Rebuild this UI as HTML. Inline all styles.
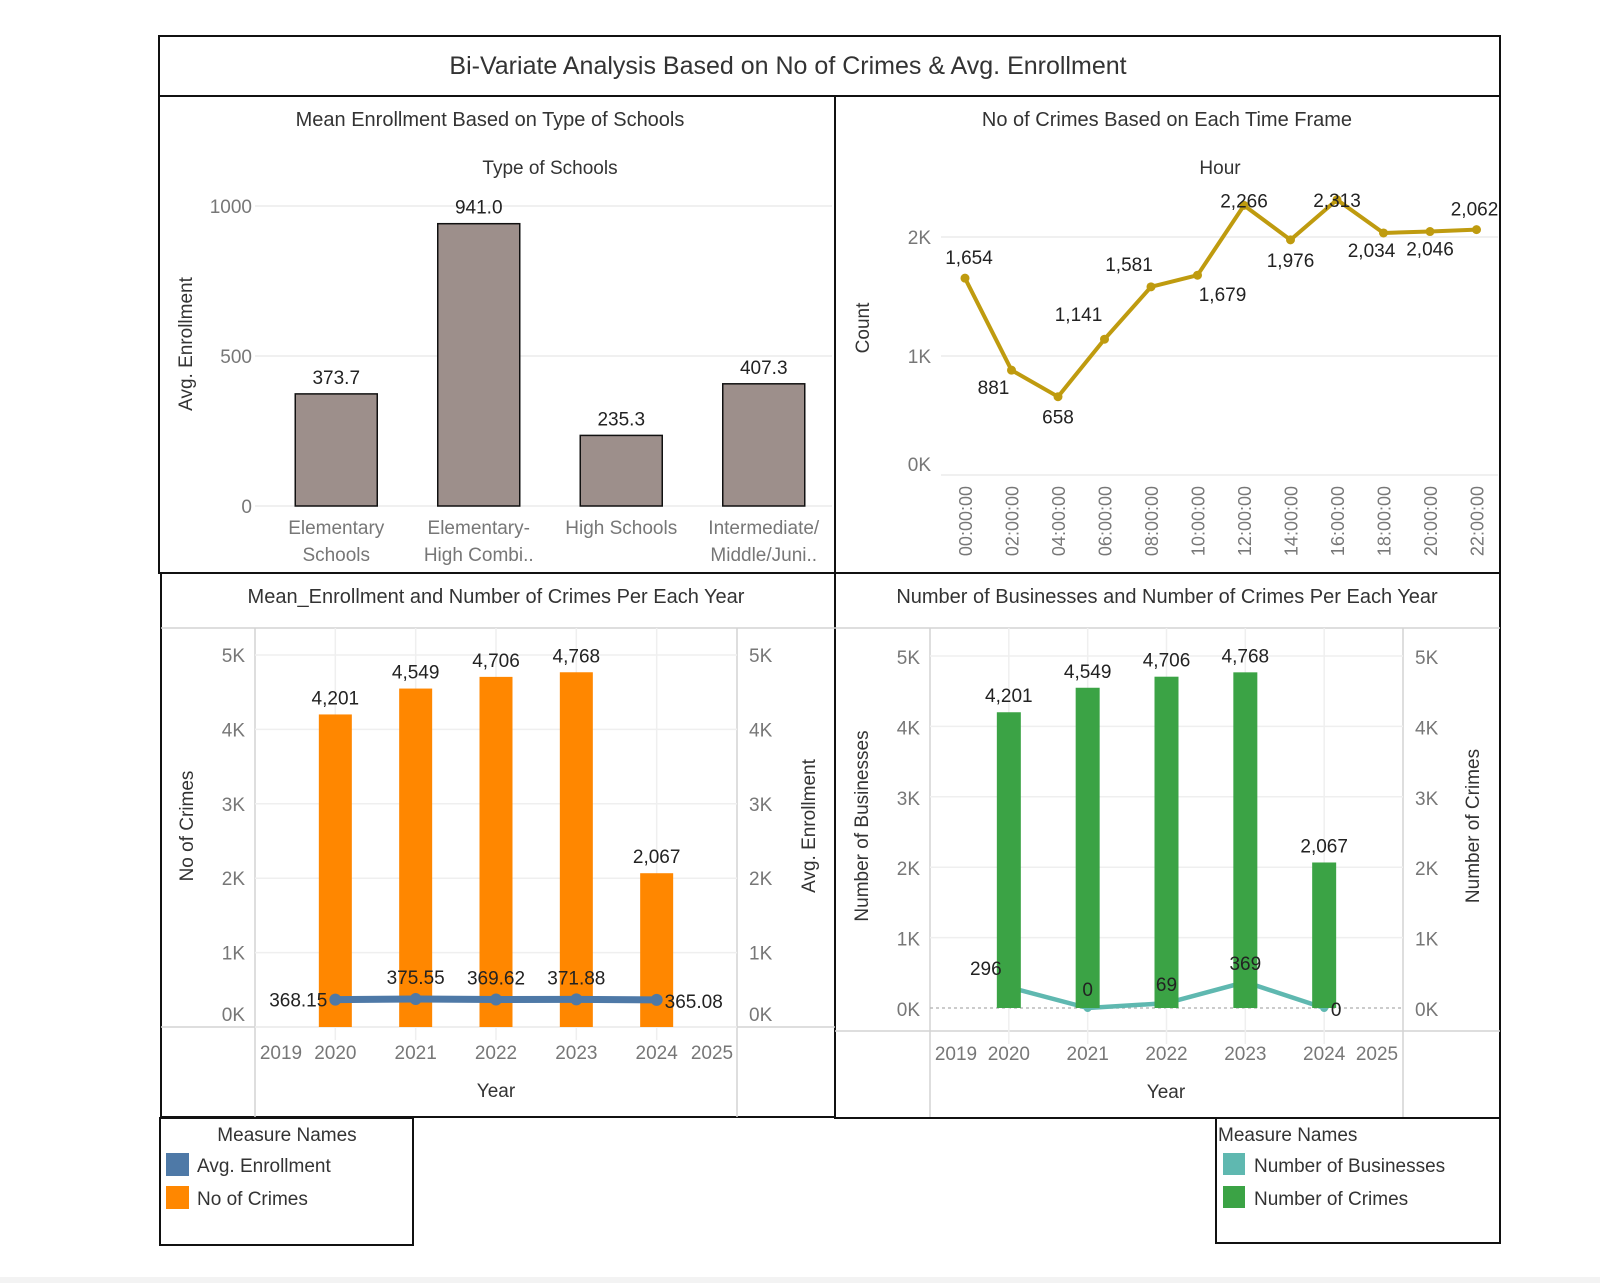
<!DOCTYPE html>
<html><head><meta charset="utf-8">
<style>
html,body{margin:0;padding:0;background:#fff;}
svg{display:block;font-family:"Liberation Sans Narrow","Liberation Sans",sans-serif;}
</style></head>
<body>
<svg id="s" width="1600" height="1283" viewBox="0 0 1600 1283" xmlns="http://www.w3.org/2000/svg">
<rect x="0" y="1277" width="1600" height="6" fill="#f3f3f3"/>
<g fill="none" stroke="#111" stroke-width="2">
<rect x="159" y="36" width="1341" height="60"/>
<rect x="159" y="96" width="676" height="477"/>
<rect x="835" y="96" width="665" height="477"/>
<rect x="161" y="573" width="674" height="544"/>
<rect x="835" y="573" width="665" height="545"/>
<rect x="160" y="1118" width="253" height="127"/>
<rect x="1216" y="1118" width="284" height="125"/>
</g>
<text x="788" y="74" text-anchor="middle" font-size="25" fill="#333">Bi-Variate Analysis Based on No of Crimes &amp; Avg. Enrollment</text>
<text x="490" y="126" text-anchor="middle" font-size="20" fill="#333">Mean Enrollment Based on Type of Schools</text>
<text x="550" y="174" text-anchor="middle" font-size="19" fill="#333">Type of Schools</text>
<text x="1167" y="126" text-anchor="middle" font-size="20" fill="#333">No of Crimes Based on Each Time Frame</text>
<text x="1220" y="174" text-anchor="middle" font-size="19" fill="#333">Hour</text>
<text x="496" y="603" text-anchor="middle" font-size="20" fill="#333">Mean_Enrollment and Number of Crimes Per Each Year</text>
<text x="1167" y="603" text-anchor="middle" font-size="20" fill="#333">Number of Businesses and Number of Crimes Per Each Year</text>
<g id="c1"></g>
<g id="c2"></g>
<g id="c3"></g>
<g id="c4"></g>
<g>
<text x="287" y="1141" text-anchor="middle" font-size="19" fill="#333">Measure Names</text>
<rect x="166" y="1153" width="23" height="23" fill="#4e79a7"/>
<text x="197" y="1172" font-size="19" fill="#333">Avg. Enrollment</text>
<rect x="166" y="1186" width="23" height="23" fill="#ff8700"/>
<text x="197" y="1205" font-size="19" fill="#333">No of Crimes</text>
</g>
<g>
<text x="1218" y="1141" font-size="19" fill="#333">Measure Names</text>
<rect x="1223" y="1153" width="22" height="22" fill="#5fb8b0"/>
<text x="1254" y="1172" font-size="19" fill="#333">Number of Businesses</text>
<rect x="1223" y="1186" width="22" height="22" fill="#3ba345"/>
<text x="1254" y="1205" font-size="19" fill="#333">Number of Crimes</text>
</g>
</svg>
<script>
const schoolTypes=[["Elementary","Schools"],["Elementary-","High Combi.."],["High Schools"],["Intermediate/","Middle/Juni.."]];
const schoolEnroll=[373.7,941.0,235.3,407.3];
const enrollTicks=[0,500,1000];
const hours=["00:00:00","02:00:00","04:00:00","06:00:00","08:00:00","10:00:00","12:00:00","14:00:00","16:00:00","18:00:00","20:00:00","22:00:00"];
const hourCrimes=[1654,881,658,1141,1581,1679,2266,1976,2313,2034,2046,2062];
const hourTicks=[0,1000,2000];
const years=[2020,2021,2022,2023,2024];
const yearAxis=[2019,2020,2021,2022,2023,2024,2025];
const yearCrimes=[4201,4549,4706,4768,2067];
const yearEnroll=[368.15,375.55,369.62,371.88,365.08];
const yearBusinesses=[296,0,69,369,0];
const kTicks=[0,1000,2000,3000,4000,5000];

const NS="http://www.w3.org/2000/svg";
function mk(p,tag,a,txt){const e=document.createElementNS(NS,tag);for(const k in a)e.setAttribute(k,a[k]);if(txt!==undefined)e.textContent=txt;p.appendChild(e);return e;}
const fmt=v=>v.toLocaleString('en-US');
const kfmt=v=>(v/1000)+"K";

// Chart 1
(function(){
const g=document.getElementById('c1');
const GL=255,L=265,R=835,y=v=>506-v*0.3;
const bw=(R-L)/schoolTypes.length;
enrollTicks.forEach(t=>{
 const l=mk(g,'line',{x1:GL,x2:832,y1:y(t),y2:y(t),stroke:'#ececec','stroke-width':1.5});
 
 const tx=mk(g,'text',{x:GL-3,y:y(t)+7,'text-anchor':'end','font-size':19,fill:'#777'},String(t));
 
});
const at=mk(g,'text',{x:0,y:0,transform:'translate(192,344) rotate(-90)','text-anchor':'middle','font-size':19,fill:'#333'},'Avg. Enrollment');

schoolEnroll.forEach((v,i)=>{
 const cx=L+bw*(i+0.5);
 const r=mk(g,'rect',{x:cx-41,y:y(v),width:82,height:y(0)-y(v),fill:'#9d8f8b',stroke:'#111','stroke-width':1.5});
 
 const t=mk(g,'text',{x:cx,y:y(v)-10,'text-anchor':'middle','font-size':19,fill:'#222'},v.toFixed(1));
 
 schoolTypes[i].forEach((s,j)=>{
  const c=mk(g,'text',{x:cx,y:534+j*27,'text-anchor':'middle','font-size':19,fill:'#777'},s);
  
 });
});
})();

// Chart 2
(function(){
const g=document.getElementById('c2');
const L=941,R=1498,y=v=>475-v*0.119;
const x=i=>965+i*46.5;
hourTicks.forEach(t=>{
 const l=mk(g,'line',{x1:L,x2:R,y1:y(t),y2:y(t),stroke:'#ececec','stroke-width':1.5});
 
 const tx=mk(g,'text',{x:L-10,y:y(t)+(t===0?-4:7),'text-anchor':'end','font-size':19,fill:'#777'},kfmt(t));
 
});
const at=mk(g,'text',{x:0,y:0,transform:'translate(869,328) rotate(-90)','text-anchor':'middle','font-size':19,fill:'#333'},'Count');

hours.forEach((h,i)=>{
 const t=mk(g,'text',{x:0,y:0,transform:`translate(${x(i)+7},486) rotate(-90)`,'text-anchor':'end','font-size':18,fill:'#777'},h);
 
});
const pl=mk(g,'polyline',{points:hourCrimes.map((v,i)=>x(i)+','+y(v)).join(' '),fill:'none',stroke:'#bf9b0f','stroke-width':4,'stroke-linejoin':'round'});

const offs=[[4,-14],[-18,24],[0,27],[-26,-18],[-22,-16],[25,26],[0,2],[0,27],[0,7],[-12,24],[0,24],[-2,-14]];
hourCrimes.forEach((v,i)=>{
 const c=mk(g,'circle',{cx:x(i),cy:y(v),r:4.5,fill:'#bf9b0f'});
 
 const t=mk(g,'text',{x:x(i)+offs[i][0],y:y(v)+offs[i][1],'text-anchor':'middle','font-size':19,fill:'#222'},fmt(v));
 
});
})();

// Chart 3
(function(){
const g=document.getElementById('c3');
const L=255,R=737,x=yr=>L+(yr-2019)*(R-L)/6,y=v=>1027-v*0.0744;
const fr=mk(g,'path',{d:`M161 628 H835 M161 1027 H835 M${L} 628 V1117 M${R} 628 V1117`,stroke:'#d4d4d4','stroke-width':1.5,fill:'none'});

kTicks.forEach(t=>{
 const l=mk(g,'line',{x1:L,x2:R,y1:y(t),y2:y(t),stroke:'#efefef','stroke-width':1.5});
 
 const dy=t===0?-6:7;
 const a=mk(g,'text',{x:245,y:y(t)+dy,'text-anchor':'end','font-size':19,fill:'#777'},kfmt(t));
 
 const b=mk(g,'text',{x:749,y:y(t)+dy,'font-size':19,fill:'#777'},kfmt(t));
 
});
years.forEach(yr=>{const l=mk(g,'line',{x1:x(yr),x2:x(yr),y1:628,y2:1040,stroke:'#efefef','stroke-width':1.5});});
const lx={2019:281,2025:712};
yearAxis.forEach(yr=>{
 const t=mk(g,'text',{x:lx[yr]||x(yr),y:1059,'text-anchor':'middle','font-size':19,fill:'#777'},String(yr));
 
});
const xt=mk(g,'text',{x:496,y:1097,'text-anchor':'middle','font-size':19,fill:'#333'},'Year');

const a1=mk(g,'text',{x:0,y:0,transform:'translate(193,826) rotate(-90)','text-anchor':'middle','font-size':19,fill:'#333'},'No of Crimes');

const a2=mk(g,'text',{x:0,y:0,transform:'translate(815,826) rotate(-90)','text-anchor':'middle','font-size':19,fill:'#333'},'Avg. Enrollment');

yearCrimes.forEach((v,i)=>{
 const cx=x(years[i]);
 const r=mk(g,'rect',{x:cx-16.5,y:y(v),width:33,height:y(0)-y(v),fill:'#ff8700'});
 
 const t=mk(g,'text',{x:cx,y:y(v)-10,'text-anchor':'middle','font-size':19,fill:'#222'},fmt(v));
 
});
const pl=mk(g,'polyline',{points:yearEnroll.map((v,i)=>x(years[i])+','+y(v)).join(' '),fill:'none',stroke:'#4e79a7','stroke-width':7});

yearEnroll.forEach((v,i)=>{
 const cx=x(years[i]);
 const c=mk(g,'circle',{cx:cx,cy:y(v),r:6,fill:'#4e79a7'});
 
 let a={x:cx,y:y(v)-15,'text-anchor':'middle'};
 if(i===0)a={x:cx-8,y:y(v)+7,'text-anchor':'end'};
 if(i===years.length-1)a={x:cx+8,y:y(v)+8,'text-anchor':'start'};
 const t=mk(g,'text',Object.assign(a,{'font-size':19,fill:'#222'}),v.toFixed(2));
 
});
})();

// Chart 4
(function(){
const g=document.getElementById('c4');
const L=930,R=1403,x=yr=>L+(yr-2019)*(R-L)/6,y=v=>1008-v*0.0704;
const fr=mk(g,'path',{d:`M835 628 H1500 M835 1031 H1500 M${L} 628 V1117 M${R} 628 V1117`,stroke:'#d4d4d4','stroke-width':1.5,fill:'none'});

kTicks.forEach(t=>{
 const l=mk(g,'line',{x1:L,x2:R,y1:y(t),y2:y(t),stroke:t===0?'#bbb':'#efefef','stroke-width':1.5,'stroke-dasharray':t===0?'3 3':'none'});
 
 const a=mk(g,'text',{x:920,y:y(t)+8,'text-anchor':'end','font-size':19,fill:'#777'},kfmt(t));
 
 const b=mk(g,'text',{x:1415,y:y(t)+8,'font-size':19,fill:'#777'},kfmt(t));
 
});
years.forEach(yr=>{const l=mk(g,'line',{x1:x(yr),x2:x(yr),y1:628,y2:1044,stroke:'#efefef','stroke-width':1.5});});
const lx={2019:956,2025:1377};
yearAxis.forEach(yr=>{
 const t=mk(g,'text',{x:lx[yr]||x(yr),y:1060,'text-anchor':'middle','font-size':19,fill:'#777'},String(yr));
 
});
const xt=mk(g,'text',{x:1166,y:1098,'text-anchor':'middle','font-size':19,fill:'#333'},'Year');

const a1=mk(g,'text',{x:0,y:0,transform:'translate(868,826) rotate(-90)','text-anchor':'middle','font-size':19,fill:'#333'},'Number of Businesses');

const a2=mk(g,'text',{x:0,y:0,transform:'translate(1479,826) rotate(-90)','text-anchor':'middle','font-size':19,fill:'#333'},'Number of Crimes');

const pl=mk(g,'polyline',{points:yearBusinesses.map((v,i)=>x(years[i])+','+y(v)).join(' '),fill:'none',stroke:'#5fb8b0','stroke-width':4.5});

yearBusinesses.forEach((v,i)=>{
 const c=mk(g,'circle',{cx:x(years[i]),cy:y(v),r:4,fill:'#5fb8b0'});
 
});
yearCrimes.forEach((v,i)=>{
 const cx=x(years[i]);
 const r=mk(g,'rect',{x:cx-12,y:y(v),width:24,height:y(0)-y(v),fill:'#3ba345'});
 
 const t=mk(g,'text',{x:cx,y:y(v)-10,'text-anchor':'middle','font-size':19,fill:'#222'},fmt(v));
 
});
yearBusinesses.forEach((v,i)=>{
 const cx=x(years[i]);
 let a={x:cx,y:y(v)-12,'text-anchor':'middle'};
 if(i===0)a={x:cx-23,y:y(v)-12,'text-anchor':'middle'};
 if(i===years.length-1)a={x:cx+12,y:y(v)+8,'text-anchor':'middle'};
 const t=mk(g,'text',Object.assign(a,{'font-size':19,fill:'#222'}),fmt(v));
 
});
})();
</script>
</body></html>
